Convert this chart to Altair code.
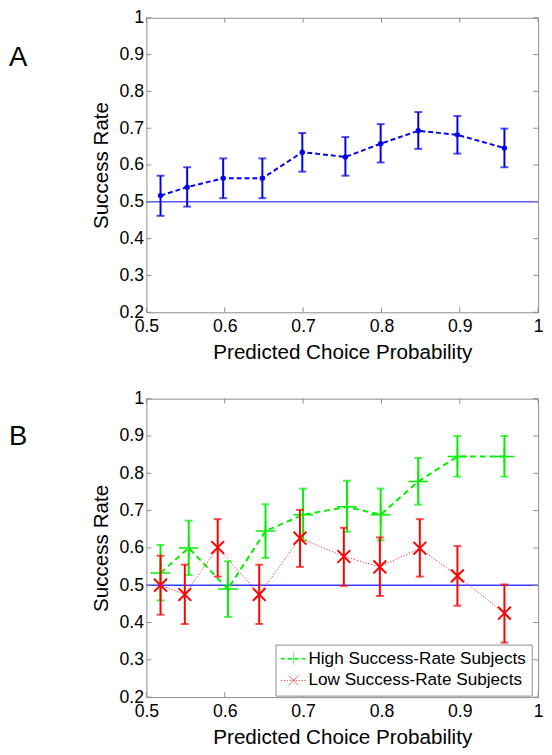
import altair as alt
import pandas as pd

# ---------------- data ----------------
x_ticks = [0.5, 0.6, 0.7, 0.8, 0.9, 1.0]
y_ticks = [0.2, 0.3, 0.4, 0.5, 0.6, 0.7, 0.8, 0.9, 1.0]
chance = [0.5]
panel_labels = ["A", "B"]
x_title = "Predicted Choice Probability"
y_title = "Success Rate"
legend_labels = ["High Success-Rate Subjects", "Low Success-Rate Subjects"]

a_x = [0.518, 0.552, 0.598, 0.648, 0.699, 0.754, 0.799, 0.847, 0.897, 0.957]
a_y = [0.517, 0.540, 0.564, 0.564, 0.635, 0.622, 0.658, 0.693, 0.682, 0.646]
a_lo = [0.462, 0.487, 0.510, 0.510, 0.582, 0.571, 0.607, 0.644, 0.631, 0.594]
a_hi = [0.571, 0.594, 0.618, 0.618, 0.687, 0.676, 0.711, 0.744, 0.733, 0.699]

hi_x = [0.518, 0.554, 0.604, 0.652, 0.700, 0.756, 0.799, 0.847, 0.897, 0.957]
hi_y = [0.533, 0.600, 0.490, 0.645, 0.689, 0.710, 0.689, 0.778, 0.845, 0.845]
hi_lo = [0.459, 0.527, 0.415, 0.573, 0.620, 0.643, 0.620, 0.716, 0.791, 0.791]
hi_hi = [0.608, 0.673, 0.564, 0.717, 0.759, 0.780, 0.759, 0.841, 0.900, 0.900]

lo_x = [0.518, 0.549, 0.591, 0.644, 0.696, 0.752, 0.798, 0.849, 0.897, 0.957]
lo_y = [0.500, 0.475, 0.601, 0.475, 0.626, 0.577, 0.549, 0.599, 0.525, 0.425]
lo_lo = [0.421, 0.396, 0.523, 0.396, 0.549, 0.498, 0.471, 0.523, 0.445, 0.346]
lo_hi = [0.579, 0.555, 0.677, 0.555, 0.702, 0.654, 0.628, 0.677, 0.605, 0.502]

# ---------------- style ----------------
FONT = "Liberation Sans"
GRAY = "#8c8c8c"
BLUE = "#0000ee"
GREEN = "#00f000"
RED = "#ff0000"
W = 399
HA = 300
HB = 304
PLUS = "M-1,0L1,0M0,-1L0,1"
CROSS = "M-1,-1L1,1M-1,1L1,-1"

xscale = alt.Scale(domain=[0.5, 1.0], nice=False, zero=False)
yscale = alt.Scale(domain=[0.2, 1.0], nice=False, zero=False)

AX = dict(labelFont=FONT, labelFontSize=18, labelColor="black",
          titleFont=FONT, titleFontSize=21, titleFontWeight="normal", titleColor="black",
          grid=False, domain=False, ticks=False, labelFlush=False, labelOverlap=False)


def X(field="x"):
    return alt.X(f"{field}:Q", scale=xscale,
                 axis=alt.Axis(values=x_ticks, format="~g", title=x_title,
                               labelPadding=6, titlePadding=6, **AX))


def Y(field="y"):
    return alt.Y(f"{field}:Q", scale=yscale,
                 axis=alt.Axis(values=y_ticks, format="~g", title=y_title,
                               labelPadding=3, titlePadding=8, **AX))


def frame_layers(H):
    xt = alt.Chart(pd.DataFrame({"x": x_ticks}))
    yt = alt.Chart(pd.DataFrame({"y": y_ticks}))
    kw = dict(color=GRAY, strokeWidth=1)
    return [
        xt.mark_rule(**kw).encode(x=X(), y=alt.value(H), y2=alt.value(H - 5)),
        xt.mark_rule(**kw).encode(x=X(), y=alt.value(0), y2=alt.value(5)),
        yt.mark_rule(**kw).encode(y=Y(), x=alt.value(0), x2=alt.value(5)),
        yt.mark_rule(**kw).encode(y=Y(), x=alt.value(W), x2=alt.value(W - 5)),
    ]


def series_layers(xs, ys, los, his, color, dash, lw, shape, size, filled, mwidth):
    df = pd.DataFrame({"x": xs, "y": ys, "lo": los, "hi": his})
    base = alt.Chart(df)
    line = base.mark_line(color=color, strokeDash=dash, strokeWidth=lw).encode(x=X(), y=Y())
    bars = base.mark_rule(color=color, strokeWidth=2).encode(x=X(), y=Y("lo"), y2="hi:Q")
    cap_lo = base.mark_tick(color=color, orient="horizontal", size=8, thickness=2).encode(x=X(), y=Y("lo"))
    cap_hi = base.mark_tick(color=color, orient="horizontal", size=8, thickness=2).encode(x=X(), y=Y("hi"))
    if filled:
        pts = base.mark_point(shape=shape, size=size, filled=True, color=color, opacity=1).encode(x=X(), y=Y())
    else:
        pts = base.mark_point(shape=shape, size=size, filled=False, color=color,
                              strokeWidth=mwidth, opacity=1).encode(x=X(), y=Y())
    return [line, bars, cap_lo, cap_hi, pts]


def chance_line(color, width):
    return alt.Chart(pd.DataFrame({"y": chance})).mark_rule(color=color, strokeWidth=width).encode(
        y=Y(), x=alt.value(0), x2=alt.value(W))


def panel_label(i, ypos):
    return alt.Chart(pd.DataFrame({"t": [panel_labels[i]]})).mark_text(
        align="left", baseline="middle", fontSize=28, font=FONT, color="black"
    ).encode(text="t:N", x=alt.value(-140), y=alt.value(ypos))


# ---------------- panel A ----------------
layers_a = [chance_line(BLUE, 1)] + frame_layers(HA) + series_layers(
    a_x, a_y, a_lo, a_hi, BLUE, [5, 3], 2, "circle", 30, True, 1) + [panel_label(0, 41)]
panel_a = alt.layer(*layers_a).properties(width=W, height=HA)

# ---------------- panel B ----------------
legend_box = alt.Chart(pd.DataFrame({"k": [0]})).mark_rect(
    fill="white", stroke=GRAY, strokeWidth=1).encode(
    x=alt.value(132), x2=alt.value(393), y=alt.value(HB - 53), y2=alt.value(HB - 1))


def legend_entry(i, ypos, color, dash, lw, shape, size):
    seg = alt.Chart(pd.DataFrame({"k": [i]})).mark_rule(
        color=color, strokeDash=dash, strokeWidth=lw).encode(
        x=alt.value(137), x2=alt.value(162), y=alt.value(ypos))
    sym = alt.Chart(pd.DataFrame({"k": [i]})).mark_point(
        shape=shape, size=size, filled=False, color=color, strokeWidth=1, opacity=0.6).encode(
        x=alt.value(150), y=alt.value(ypos))
    txt = alt.Chart(pd.DataFrame({"t": [legend_labels[i]]})).mark_text(
        align="left", baseline="middle", fontSize=17.5, font=FONT, color="black").encode(
        text="t:N", x=alt.value(165), y=alt.value(ypos))
    return [seg, sym, txt]


layers_b = ([chance_line("#3a3aff", 1.5)] + frame_layers(HB)
            + series_layers(hi_x, hi_y, hi_lo, hi_hi, GREEN, [6, 4], 2, PLUS, 400, False, 1.5)
            + series_layers(lo_x, lo_y, lo_lo, lo_hi, RED, [1, 2], 1, CROSS, 170, False, 2)
            + [legend_box]
            + legend_entry(0, HB - 39, GREEN, [4, 3], 1.5, PLUS, 150)
            + legend_entry(1, HB - 17, RED, [1, 2], 1, CROSS, 100)
            + [panel_label(1, 39)])
panel_b = alt.layer(*layers_b).properties(width=W, height=HB)

chart = alt.vconcat(panel_a, panel_b, spacing=26).properties(
    padding={"top": -7, "left": 0, "right": 0, "bottom": 0}, background="white"
).configure_view(stroke=GRAY, strokeWidth=1)

chart.save("out.html", embed_options={"renderer": "svg", "actions": False})
